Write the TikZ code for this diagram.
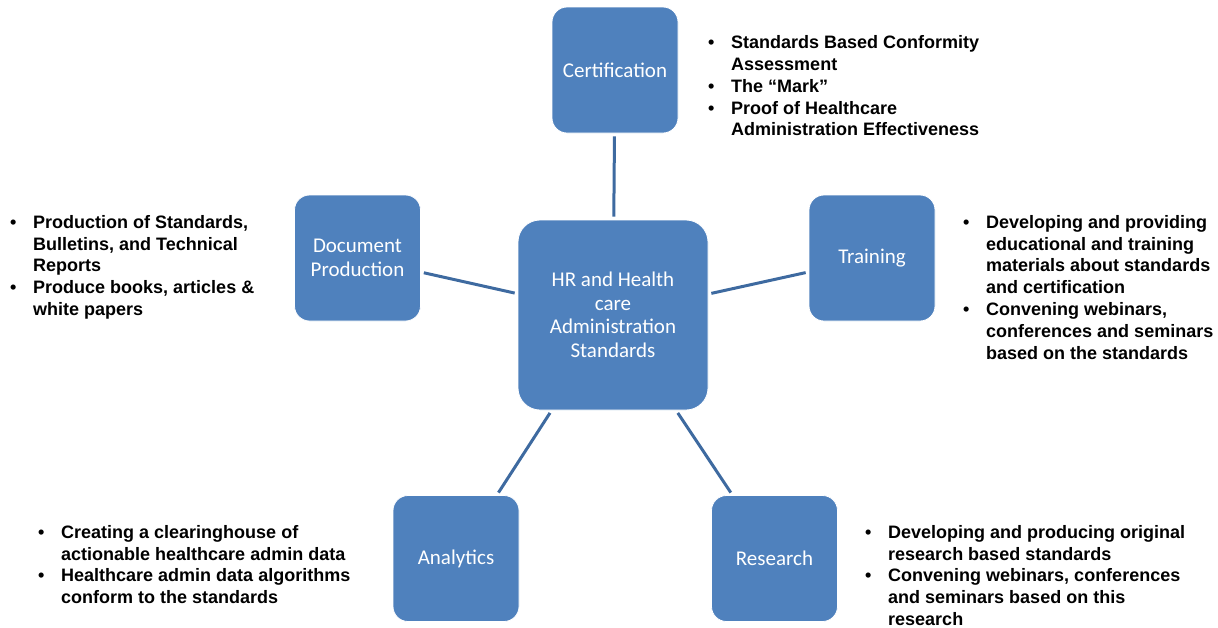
\documentclass[tikz,border=0pt]{standalone}
\usepackage{fontspec}
\setmainfont{Liberation Sans}
\newfontfamily\boxfont{Carlito}
\definecolor{boxblue}{RGB}{79,129,189}
\definecolor{linkblue}{RGB}{62,106,160}
\newcommand{\bul}{\makebox[23pt][l]{\textbullet}}
\newcommand{\ind}{\hspace*{23pt}}
\begin{document}
\begin{tikzpicture}[x=1pt,y=-1pt,
  box/.style={draw=white, line width=0.8pt, fill=boxblue, rounded corners=15pt,
    minimum width=126pt, minimum height=126pt, inner sep=2pt, align=center,
    text=white, font=\boxfont\fontsize{21}{23.5}\selectfont},
  hub/.style={box, minimum width=190pt, minimum height=190pt, rounded corners=22pt},
  link/.style={draw=linkblue, line width=3pt, shorten >=3pt, shorten <=3pt},
  note/.style={anchor=north west, inner sep=0pt, align=left,
    font=\bfseries\fontsize{18}{21.8}\selectfont}]
\useasboundingbox (0,0) rectangle (1218,627);

\node[hub] (hub) at (613,315) {HR and Health\\care\\Administration\\Standards};
\node[box] (cert) at (615,70) {Certification};
\node[box] (doc) at (357.5,258) {Document\\Production};
\node[box] (train) at (872,258) {Training};
\node[box] (anal) at (456,558.5) {Analytics};
\node[box] (res) at (774.5,558.5) {Research};

\draw[link] (hub) -- (cert);
\draw[link] (hub) -- (doc);
\draw[link] (hub) -- (train);
\draw[link] (hub) -- (anal);
\draw[link] (hub) -- (res);

\node[note] (certnote) at (708,35.5) {\bul Standards Based Conformity\\\ind Assessment\\\bul The “Mark”\\\bul Proof of Healthcare\\\ind Administration Effectiveness};
\node[note] (docnote) at (10,215) {\bul Production of Standards,\\\ind Bulletins, and Technical\\\ind Reports\\\bul Produce books, articles \&\\\ind white papers};
\node[note] (trainnote) at (963,215) {\bul Developing and providing\\\ind educational and training\\\ind materials about standards\\\ind and certification\\\bul Convening webinars,\\\ind conferences and seminars\\\ind based on the standards};
\node[note] (analnote) at (38,525) {\bul Creating a clearinghouse of\\\ind actionable healthcare admin data\\\bul Healthcare admin data algorithms\\\ind conform to the standards};
\node[note] (resnote) at (865,525) {\bul Developing and producing original\\\ind research based standards\\\bul Convening webinars, conferences\\\ind and seminars based on this\\\ind research};
\end{tikzpicture}
\end{document}
